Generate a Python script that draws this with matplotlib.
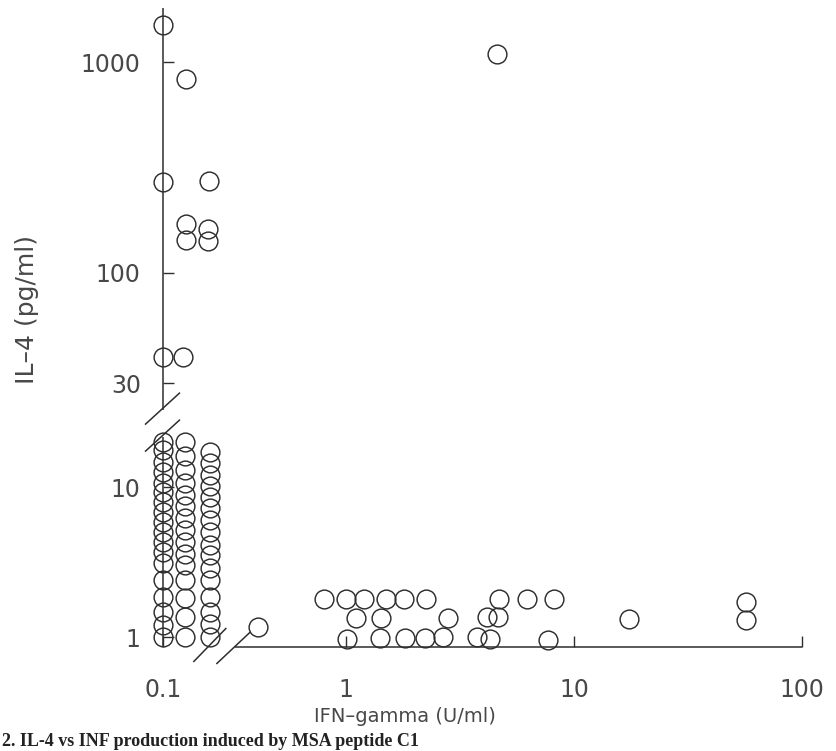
"""IL-4 vs IFN-gamma scatter with broken log axes (scanned-figure recreation)."""
import numpy as np
import matplotlib
matplotlib.use("Agg")
import matplotlib.pyplot as plt
from matplotlib import transforms

# --- data -----------------------------------------------------------------
# IFN-gamma below detection: three jittered columns, IL-4 values (pg/ml)
col_x = [0.1, 0.125, 0.16]
low_col1 = [20, 17.6, 14.7, 12.6, 10.6, 9.3, 7.9, 6.8, 5.8, 5.0, 4.3, 3.7,
            3.1, 2.4, 1.85, 1.47, 1.2, 1.0]
low_col2 = [20, 16.1, 12.9, 10.6, 8.9, 7.5, 6.2, 5.2, 4.3, 3.6, 3.0, 2.4,
            1.82, 1.36, 1.0]
low_col3 = [17.1, 14.5, 12.0, 10.2, 8.6, 7.2, 6.0, 5.0, 4.1, 3.5, 2.9, 2.4,
            1.85, 1.47, 1.22, 1.0]

# high IL-4 producers with IFN-gamma below detection
high_ifn = [0.1, 0.126, 0.1, 0.159, 0.126, 0.126, 0.157, 0.157, 0.1, 0.122]
high_il4 = [1500, 830, 270, 272, 170, 143, 161, 142, 40, 40]

# measurable IFN-gamma
ifn = [0.41,
       0.80, 1.0, 1.2, 1.5, 1.8, 2.24, 4.7, 6.2, 8.2,
       1.11, 1.43, 2.79, 4.14, 4.62, 17.5, 57, 57,
       1.01, 1.41, 1.81, 2.22, 2.66, 3.75, 4.28, 7.7,
       4.58]
il4 = [1.16,
       1.8, 1.8, 1.8, 1.8, 1.8, 1.8, 1.8, 1.8, 1.8,
       1.33, 1.33, 1.34, 1.35, 1.35, 1.32, 1.71, 1.30,
       0.97, 0.98, 0.99, 0.99, 1.0, 1.0, 0.97, 0.95,
       1090]

x_ticks = [0.1, 1, 10, 100]
x_ticklabels = ["0.1", "1", "10", "100"]
y_ticks = [1, 10, 30, 100, 1000]
y_ticklabels = ["1", "10", "30", "100", "1000"]

X_BREAK = (0.2, 0.326)   # gap between "<0.1" strip and the main log axis
Y_BREAK = (21.5, 22.4)   # gap between the two IL-4 scales

caption = "2. IL-4 vs INF production induced by MSA peptide C1"

INK = "#2e2e2e"
TXT = "#484848"


def piecewise_log(lv_knots, px_knots):
    def fwd(v):
        lv = np.log10(np.clip(np.asarray(v, dtype=float), 1e-6, None))
        return np.interp(lv, lv_knots, px_knots)

    def inv(p):
        return 10 ** np.interp(p, px_knots, lv_knots)
    return fwd, inv


# x: left strip 228 px/decade anchored at 0.1, main axis 228 px/decade
xa, xb = np.log10(X_BREAK)
x_fwd, x_inv = piecewise_log([-6, xa, xb, 6],
                             [228 * -5, 228 * (1 + xa), 183 + 228 * xb, 183 + 228 * 6])
# y: lower 150 px/decade, upper 211 px/decade
ya, yb = np.log10(Y_BREAK)
y_fwd, y_inv = piecewise_log([-6, ya, yb, 6],
                             [10 + 150 * -6, 10 + 150 * ya, 211 * yb - 48, 211 * 6 - 48])

W, H = 836, 751
fig = plt.figure(figsize=(W / 100, H / 100), dpi=100)
ax = fig.add_axes([163 / W, (H - 647) / H, 639 / W, 639 / H])
ax.set_xscale("function", functions=(x_fwd, x_inv))
ax.set_yscale("function", functions=(y_fwd, y_inv))
ax.set_xlim(0.1, 100)
ax.set_ylim(y_inv(0), y_inv(639))

mk = dict(linestyle="none", marker="o", markersize=13.5, markerfacecolor="none",
          markeredgecolor=INK, markeredgewidth=1.05, clip_on=False, zorder=3)
for x, col in zip(col_x, [low_col1, low_col2, low_col3]):
    ax.plot([x] * len(col), col, **mk)
ax.plot(high_ifn, high_il4, **mk)
ax.plot(ifn, il4, **mk)

# broken axis lines
for s in ax.spines.values():
    s.set_visible(False)
lk = dict(color=INK, lw=1.1, clip_on=False, zorder=2, solid_capstyle="butt")
y0, y1 = ax.get_ylim()
ax.plot([0.1, 0.1], [y0, Y_BREAK[0]], **lk)
ax.plot([0.1, 0.1], [Y_BREAK[1], y1], **lk)
ax.plot([X_BREAK[1], 100], [y0, y0], **lk)

# break marks, offsets in pixels around each break
fig.canvas.draw()
yb_anchor = ax.transData.transform((0.1, np.sqrt(Y_BREAK[0] * Y_BREAK[1])))
xb_anchor = ax.transData.transform((np.sqrt(X_BREAK[0] * X_BREAK[1]), y0))
for anchor, slashes in [
    (yb_anchor, [((-18, -1), (17, 31)), ((-18, -28), (17, 4))]),
    (xb_anchor, [((-40, -15), (-7, 19)), ((-17, -17), (17, 15))]),
]:
    tr = transforms.Affine2D().translate(*anchor)
    for (a, b) in slashes:
        ax.plot([a[0], b[0]], [a[1], b[1]], transform=tr, **lk)

ax.set_xticks(x_ticks)
ax.set_xticklabels(x_ticklabels)
ax.set_yticks(y_ticks)
ax.set_yticklabels(y_ticklabels)
ax.minorticks_off()
ax.tick_params(direction="in", length=8, width=1, color=INK, labelcolor=TXT,
               labelsize=17)
ax.tick_params(axis="y", pad=16)
ax.tick_params(axis="x", pad=22)
ax.patch.set_visible(False)

fig.text(27 / W, 1 - 309 / H, "IL–4 (pg/ml)", rotation=90, ha="center",
         va="center", fontsize=18, color=TXT)
fig.text(405 / W, 1 - 717 / H, "IFN–gamma (U/ml)", ha="center", va="center",
         fontsize=14, color=TXT)
fig.text(0.002, 1 / H, caption, ha="left", va="bottom",
         family="Liberation Serif", weight="bold", fontsize=13, color="#222222")

fig.savefig("out.png", dpi=100)
